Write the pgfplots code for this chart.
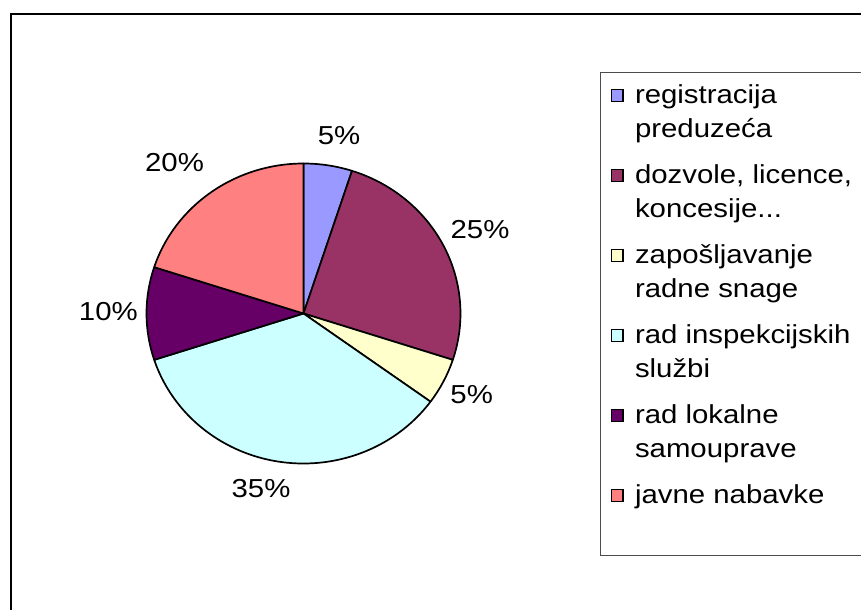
\documentclass[border=0pt]{standalone}
\usepackage{fontspec}
\setmainfont{Liberation Sans}[FakeStretch=1.13]
\usepackage{pgfplots}
\usepackage{pgfplotstable}
\pgfplotsset{compat=1.18}
\definecolor{c1}{HTML}{9999FF}
\definecolor{c2}{HTML}{993366}
\definecolor{c3}{HTML}{FFFFCC}
\definecolor{c4}{HTML}{CCFFFF}
\definecolor{c5}{HTML}{660066}
\definecolor{c6}{HTML}{FF8080}

% value, colour, label position (axis units = px, y up)
\pgfplotstableread{
value col lx ly
5  c1 339.0 474.5
25 c2 480.0 380.0
5  c3 471.7 215.5
35 c4 261.0 121.0
10 c5 108.4 298.3
20 c6 174.5 447.5
}\piedata

\newcommand\pieleg[1]{\addlegendimage{legend image code/.code={\filldraw[fill=#1,draw=black,line width=1.7bp] (0.4bp,2.0bp) rectangle (12.2bp,13.9bp);}}}
% two-line legend text, first baseline on the row baseline
\newcommand\twoline[3][21.35bp]{\begin{tabular}[t]{@{}l@{}}#2\\#3\rule[-#1]{0pt}{1bp}\end{tabular}}

\begin{document}
\begin{tikzpicture}[font=\fontsize{26bp}{34.5bp}\selectfont]
\path[use as bounding box, clip] (0,0) rectangle (861bp,610bp);
\begin{axis}[
  at={(0,0)}, anchor=south west,
  x=1bp, y=1bp, xmin=0, xmax=861, ymin=0, ymax=610,
  hide axis, clip=false,
  legend style={at={(axis cs:599.5,538.3)}, anchor=north west,
    draw=black!70, line width=1bp, fill=white,
    inner xsep=10.5bp, inner ysep=7bp,
    column sep=11bp, row sep=0pt,
    cells={anchor=base west},
    nodes={inner sep=0pt, text depth=, text height=},
    font=\fontsize{26bp}{34.5bp}\selectfont},
]
\draw[line width=2bp] (axis cs:11,-30) |- (axis cs:900,596.3);
\xdef\pcum{0}
\pgfplotsinvokeforeach{0,...,5}{%
  \pgfplotstablegetelem{#1}{value}\of\piedata \xdef\pv{\pgfplotsretval}%
  \pgfplotstablegetelem{#1}{col}\of\piedata \xdef\pc{\pgfplotsretval}%
  \pgfplotstablegetelem{#1}{lx}\of\piedata \xdef\plx{\pgfplotsretval}%
  \pgfplotstablegetelem{#1}{ly}\of\piedata \xdef\ply{\pgfplotsretval}%
  \pgfmathsetmacro\psa{90-3.6*\pcum}%
  \pgfmathsetmacro\pea{90-3.6*(\pcum+\pv)}%
  \pgfmathsetmacro\pnew{\pcum+\pv}%
  \xdef\pcum{\pnew}%
  \edef\temp{\noexpand\filldraw[fill=\pc, draw=black, line width=1.7bp, line join=round]
    (axis cs:303.5,296.5) -- ++(\psa:157bp and 150bp)
    arc[start angle=\psa, end angle=\pea, x radius=157bp, y radius=150bp] -- cycle;}%
  \temp
  \edef\temp{\noexpand\node[inner sep=0pt, anchor=center] at (axis cs:\plx,\ply) {\pv\noexpand\%};}%
  \temp
}
\pieleg{c1}\addlegendentry{\twoline{registracija}{preduzeća}}
\pieleg{c2}\addlegendentry{\twoline{dozvole, licence,}{koncesije...}}
\pieleg{c3}\addlegendentry{\twoline{zapošljavanje}{radne snage}}
\pieleg{c4}\addlegendentry{\twoline{rad inspekcijskih}{službi}}
\pieleg{c5}\addlegendentry{\twoline{rad lokalne}{samouprave}}
\pieleg{c6}\addlegendentry{\twoline[10.35bp]{javne nabavke}{}}
\end{axis}
\end{tikzpicture}
\end{document}
